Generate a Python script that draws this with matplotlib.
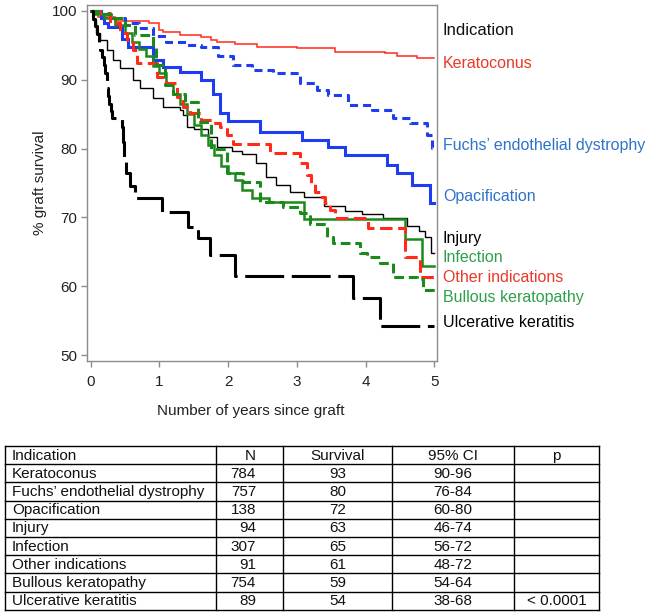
import matplotlib
matplotlib.use("Agg")
import matplotlib.pyplot as plt
import matplotlib.transforms as mtransforms
from matplotlib import font_manager as fm

# ---------------- data ----------------
kc_t = [0, 0.05, 0.10, 0.35, 0.85, 1.00, 1.05, 1.30, 1.60, 1.75, 1.84, 2.10, 2.42, 3.00, 3.56, 4.28, 4.46, 4.75, 5.0]
kc_s = [100, 99.5, 99.1, 98.6, 98.2, 97.3, 96.9, 96.5, 96.2, 95.8, 95.5, 95.2, 94.8, 94.6, 94.1, 93.85, 93.5, 93.1, 93.1]

fu_t = [0, 0.10, 0.30, 0.50, 0.70, 0.90, 1.10, 1.40, 1.60, 1.85, 2.07, 2.35, 2.65, 3.05, 3.30, 3.45, 3.75, 4.10, 4.40, 4.65, 4.90, 4.97, 5.0]
fu_s = [100, 99.6, 99.0, 98.2, 97.5, 96.3, 95.5, 95.0, 94.8, 93.5, 92.2, 91.4, 91.0, 89.5, 88.5, 87.8, 86.3, 85.6, 84.4, 83.7, 82.0, 80.1, 80.1]

op_t = [0, 0.15, 0.20, 0.25, 0.45, 0.55, 0.90, 1.05, 1.30, 1.60, 1.78, 1.88, 2.00, 2.46, 3.08, 3.45, 3.70, 4.31, 4.46, 4.68, 4.94, 5.0]
op_s = [100, 99.0, 98.2, 97.7, 96.0, 94.8, 92.9, 91.9, 91.1, 90.0, 88.0, 85.2, 84.0, 82.4, 81.2, 80.2, 79.1, 77.6, 76.4, 74.7, 72.1, 72.1]

inj_t = [0, 0.03, 0.08, 0.13, 0.23, 0.33, 0.43, 0.62, 0.72, 0.90, 1.05, 1.30, 1.34, 1.40, 1.50, 1.70, 1.84, 2.05, 2.20, 2.40, 2.55, 2.70, 2.90, 3.10, 3.40, 3.70, 3.95, 4.25, 4.60, 4.78, 4.87, 4.95, 5.0]
inj_s = [100, 98.7, 96.8, 95.8, 94.3, 92.9, 91.7, 90.0, 88.8, 87.3, 86.0, 85.6, 84.9, 83.1, 82.8, 81.7, 80.2, 79.6, 79.2, 77.9, 75.9, 74.7, 73.7, 73.0, 71.6, 71.0, 70.5, 69.9, 68.8, 68.0, 67.2, 64.8, 64.8]

inf_t = [0, 0.05, 0.20, 0.35, 0.50, 0.60, 0.70, 0.80, 0.90, 1.00, 1.10, 1.20, 1.30, 1.40, 1.50, 1.60, 1.70, 1.80, 1.90, 2.00, 2.10, 2.20, 2.35, 2.60, 3.10, 4.58, 4.82, 5.0]
inf_s = [100, 99.5, 99.0, 98.0, 96.8, 95.5, 94.5, 93.5, 92.0, 91.0, 89.5, 88.0, 86.5, 85.0, 83.5, 82.0, 80.5, 79.0, 77.5, 76.5, 75.5, 74.0, 72.8, 72.3, 69.8, 66.8, 63.0, 63.0]

oth_t = [0, 0.14, 0.28, 0.43, 0.53, 0.62, 0.67, 0.97, 1.10, 1.25, 1.35, 1.45, 1.60, 1.78, 1.88, 1.98, 2.07, 2.61, 3.05, 3.15, 3.20, 3.27, 3.34, 3.41, 3.48, 3.56, 4.04, 4.58, 4.79, 5.0]
oth_s = [100, 99.7, 98.2, 96.8, 95.8, 94.3, 92.4, 90.4, 89.5, 87.5, 86.0, 85.2, 84.2, 83.7, 83.1, 82.0, 80.6, 79.4, 77.9, 76.2, 75.0, 73.7, 73.0, 72.1, 71.1, 69.9, 68.5, 64.2, 61.3, 61.3]

bk_t = [0, 0.10, 0.30, 0.50, 0.65, 0.90, 0.95, 1.08, 1.20, 1.37, 1.56, 1.75, 1.98, 2.22, 2.46, 2.80, 3.05, 3.19, 3.44, 3.53, 3.92, 4.02, 4.21, 4.40, 4.75, 4.84, 4.98, 5.0]
bk_s = [100, 99.6, 99.0, 98.0, 96.5, 94.6, 92.2, 89.2, 88.0, 86.8, 83.9, 80.0, 76.4, 75.1, 72.2, 71.5, 70.6, 69.0, 67.2, 66.3, 64.8, 64.2, 63.4, 61.3, 61.0, 59.4, 59.0, 59.0]

uk_t = [0, 0.03, 0.06, 0.09, 0.12, 0.14, 0.17, 0.19, 0.21, 0.23, 0.24, 0.25, 0.27, 0.29, 0.31, 0.45, 0.47, 0.49, 0.51, 0.57, 0.65, 1.04, 1.42, 1.56, 1.74, 2.10, 3.82, 4.21, 5.0]
uk_s = [100, 98.9, 97.8, 96.6, 95.5, 94.4, 93.3, 92.1, 91.0, 89.9, 88.8, 87.6, 86.5, 85.4, 84.5, 83.2, 80.9, 78.6, 76.4, 74.6, 72.8, 70.8, 68.6, 67.0, 64.6, 61.5, 58.3, 54.2, 54.2]

x_ticks = [0, 1, 2, 3, 4, 5]
y_ticks = [50, 60, 70, 80, 90, 100]

label_names = ["Keratoconus", "Fuchs\u2019 endothelial dystrophy", "Opacification", "Injury",
               "Infection", "Other indications", "Bullous keratopathy", "Ulcerative keratitis"]
label_y = [92.4, 80.4, 73.0, 66.9, 64.1, 61.3, 58.4, 54.7]

table_header = ["Indication", "N", "Survival", "95% CI", "p"]
table_ind = ["Keratoconus", "Fuchs\u2019 endothelial dystrophy", "Opacification", "Injury",
             "Infection", "Other indications", "Bullous keratopathy", "Ulcerative keratitis"]
table_n = [784, 757, 138, 94, 307, 91, 754, 89]
table_surv = [93, 80, 72, 63, 65, 61, 59, 54]
table_ci = ["90-96", "76-84", "60-80", "46-74", "56-72", "48-72", "54-64", "38-68"]
table_p = ["", "", "", "", "", "", "", "< 0.0001"]

# ---------------- style ----------------
plt.rcParams['font.family'] = ['Liberation Sans', 'DejaVu Sans']
plt.rcParams['lines.scale_dashes'] = False

names = {f.name for f in fm.fontManager.ttflist}
narrow = 'Liberation Sans Narrow' if 'Liberation Sans Narrow' in names else None

RED = '#FF2A1A'
BLUE = '#1E3CF0'
GREEN = '#1A8A1A'
BLACK = '#000000'
LBL_RED = '#E8392A'
LBL_BLUE = '#2F74C8'
LBL_GREEN = '#2EA04A'
GRAY = '#8C8C8C'

W, H = 654, 614
fig = plt.figure(figsize=(W / 100, H / 100), dpi=100)
ax = fig.add_axes([87 / W, 1 - 361 / H, 350 / W, 356 / H])

series = [
    (kc_t, kc_s, RED, 1.1, '-'),
    (fu_t, fu_s, BLUE, 2.2, (0, (5.8, 3.6))),
    (op_t, op_s, BLUE, 2.2, '-'),
    (inj_t, inj_s, BLACK, 1.0, '-'),
    (inf_t, inf_s, GREEN, 1.8, '-'),
    (oth_t, oth_s, RED, 2.2, (0, (9, 4))),
    (bk_t, bk_s, GREEN, 2.2, (0, (7, 3.5))),
    (uk_t, uk_s, BLACK, 2.2, (0, (28, 5.5))),
]
for t, s, c, lw, ls in series:
    ax.step(t, s, where='post', color=c, lw=lw, linestyle=ls, solid_joinstyle='miter')

ax.set_xlim(-0.054, 5.04)
ax.set_ylim(49.13, 100.87)
ax.set_xticks(x_ticks)
ax.set_yticks(y_ticks)
for sp in ax.spines.values():
    sp.set_color(GRAY)
    sp.set_linewidth(1.0)
ax.tick_params(axis='both', direction='out', length=4, width=1, color=GRAY,
               labelsize=11, pad=3, labelcolor='#222222')
ax.tick_params(axis='x', pad=6)

fig.text(251 / W, 1 - 411 / H, "Number of years since graft", ha='center', va='center',
         fontsize=11, color='#222222')
fig.text(40 / W, 1 - 183 / H, "% graft survival", ha='center', va='center',
         rotation=90, fontsize=11, color='#222222')

# legend-like labels
trans = mtransforms.blended_transform_factory(ax.transAxes, ax.transData)
label_colors = [LBL_RED, LBL_BLUE, LBL_BLUE, BLACK, LBL_GREEN, LBL_RED, LBL_GREEN, BLACK]
lx = (443 - 87) / 350
ax.text(lx, 97.1, "Indication", transform=trans, ha='left', va='center', fontsize=12, color='#111111')
for name, y, c in zip(label_names, label_y, label_colors):
    ax.text(lx, y, name, transform=trans, ha='left', va='center', fontsize=11.5, color=c)

# ---------------- table ----------------
tax = fig.add_axes([0, 0, 1, 1])
tax.set_xlim(0, W)
tax.set_ylim(H, 0)
tax.axis('off')
tax.patch.set_alpha(0)

top, rh = 446, 18.2
cols = [5, 216, 283, 392, 514, 599]
nrows = len(table_ind) + 1
for i in range(nrows + 1):
    tax.plot([cols[0], cols[-1]], [top + i * rh, top + i * rh], color='black', lw=1.0)
for x in cols:
    tax.plot([x, x], [top, top + nrows * rh], color='black', lw=1.0)

tfont = dict(fontsize=11, color='#111111')
if narrow:
    tfont['family'] = [narrow, 'Liberation Sans']
    tfont['fontsize'] = 12.5

rows = [table_header] + [[a, str(b), str(c), d, e] for a, b, c, d, e in
                         zip(table_ind, table_n, table_surv, table_ci, table_p)]
for r, row in enumerate(rows):
    yc = top + r * rh + rh / 2 + 0.5
    tax.text(cols[0] + 7, yc, row[0], ha='left', va='center', **tfont)
    if r == 0:
        tax.text(250, yc, row[1], ha='center', va='center', **tfont)
    else:
        tax.text(256, yc, row[1], ha='right', va='center', **tfont)
    tax.text((cols[2] + cols[3]) / 2, yc, row[2], ha='center', va='center', **tfont)
    tax.text((cols[3] + cols[4]) / 2, yc, row[3], ha='center', va='center', **tfont)
    tax.text((cols[4] + cols[5]) / 2, yc, row[4], ha='center', va='center', **tfont)

fig.savefig("out.png", dpi=100)
